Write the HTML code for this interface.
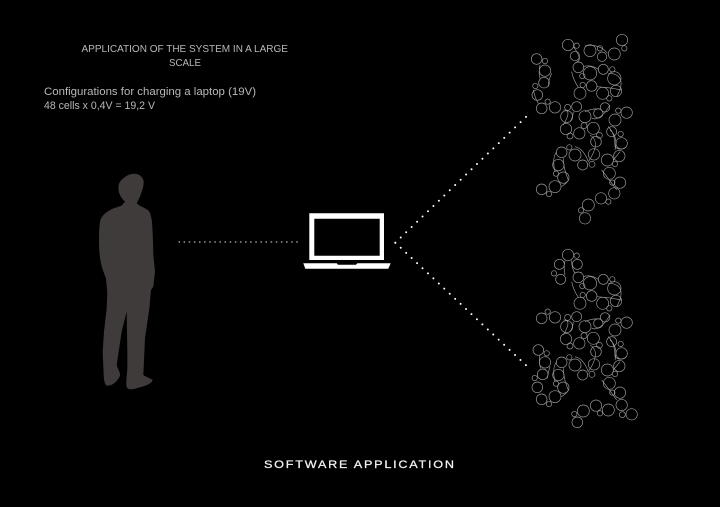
<!DOCTYPE html>
<html>
<head>
<meta charset="utf-8">
<style>
html,body{margin:0;padding:0;background:#000;width:720px;height:507px;overflow:hidden}
svg{display:block}
text{font-family:"Liberation Sans",sans-serif}
</style>
</head>
<body>
<svg width="720" height="507" viewBox="0 0 720 507" xmlns="http://www.w3.org/2000/svg">
<defs>
<g id="mid" fill="none" stroke="#9c9c9c" stroke-width="2">
<circle cx="175" cy="112" r="16"/><circle cx="210" cy="130" r="20"/><circle cx="250" cy="118" r="15"/><circle cx="283" cy="145" r="20"/>
<circle cx="277" cy="118" r="8"/><circle cx="187" cy="138" r="8"/><circle cx="188" cy="165" r="8"/>
<circle cx="215" cy="168" r="16"/><circle cx="180" cy="190" r="18"/><circle cx="248" cy="190" r="18"/><circle cx="288" cy="183" r="17"/><circle cx="268" cy="205" r="8"/>
<circle cx="170" cy="230" r="15"/><circle cx="143" cy="232" r="9"/><circle cx="255" cy="232" r="14"/><circle cx="235" cy="250" r="14"/><circle cx="195" cy="260" r="18"/>
<circle cx="320" cy="248" r="17"/><circle cx="295" cy="242" r="8"/><circle cx="285" cy="270" r="18"/><circle cx="140" cy="260" r="18"/><circle cx="138" cy="297" r="17"/>
<circle cx="275" cy="305" r="15"/><circle cx="178" cy="310" r="17"/><circle cx="220" cy="295" r="18"/><circle cx="192" cy="287" r="9"/><circle cx="150" cy="318" r="9"/><circle cx="238" cy="316" r="9"/><circle cx="302" cy="312" r="8"/>
<circle cx="305" cy="340" r="17"/><circle cx="228" cy="335" r="16"/><circle cx="125" cy="367" r="16"/><circle cx="148" cy="352" r="8"/><circle cx="165" cy="375" r="18"/><circle cx="222" cy="373" r="17"/>
<circle cx="262" cy="390" r="18"/><circle cx="298" cy="378" r="17"/><circle cx="285" cy="402" r="8"/><circle cx="188" cy="405" r="15"/><circle cx="216" cy="403" r="9"/><circle cx="115" cy="405" r="17"/>
<circle cx="268" cy="430" r="18"/><circle cx="108" cy="431" r="8"/><circle cx="130" cy="443" r="17"/><circle cx="277" cy="458" r="8"/><circle cx="300" cy="458" r="17"/>
<circle cx="105" cy="232" r="17"/><circle cx="83" cy="215" r="8"/><circle cx="65" cy="235" r="16"/>
<path d="M190,110 Q212,102 235,118 M265,130 Q298,130 303,155 Q305,175 290,200 M230,170 Q265,172 305,180 M130,240 Q158,238 130,285 M160,245 Q158,265 150,275 M215,265 Q240,275 270,225 M265,290 Q285,310 285,350 Q300,365 320,350 M210,315 Q245,335 205,395 M110,365 Q95,385 105,425 M130,385 Q130,415 145,450 M245,420 Q265,445 290,480 M300,365 Q290,378 280,390 M270,300 Q295,320 285,360 M155,125 Q160,150 175,172 M195,245 Q215,235 240,237 M165,350 Q190,355 205,395"/>
</g>
</defs>

<rect width="720" height="507" fill="#000"/>

<text x="81.5" y="52" font-size="10.4" fill="#b8b8b8" textLength="206.5" lengthAdjust="spacingAndGlyphs">APPLICATION OF THE SYSTEM IN A LARGE</text>
<text x="169" y="66" font-size="10.4" fill="#b8b8b8" textLength="32" lengthAdjust="spacingAndGlyphs">SCALE</text>
<text x="44" y="95" font-size="11" fill="#b8b8b8" textLength="212" lengthAdjust="spacingAndGlyphs">Configurations for charging a laptop (19V)</text>
<text x="44" y="109" font-size="11" fill="#b8b8b8" textLength="111" lengthAdjust="spacingAndGlyphs">48 cells x 0,4V = 19,2 V</text>

<g transform="translate(90,165) scale(0.3333)">
<path fill="#3f3b3a" d="M125,27 C140,24 155,30 160,45 C164,60 155,80 150,95 L140,115 C150,125 172,130 178,140 C188,160 187,190 189,230 L190,270 L195,320 L190,365 L183,375 L178,430 L165,520 L160,630 C170,638 185,640 188,646 C185,655 170,662 150,667 C135,672 120,676 112,670 C106,660 110,640 112,610 L112,560 L110,440 L95,500 L80,600 C85,615 92,625 90,632 C85,645 72,660 55,662 C45,664 42,650 41,630 L38,560 L42,500 L50,430 L52,385 L48,340 C40,320 32,300 29,270 C26,240 26,200 30,170 C34,150 50,140 70,130 L95,122 L105,110 C95,100 88,90 86,78 C83,60 88,48 100,40 C108,33 115,29 125,27 Z"/>
</g>

<line x1="178.5" y1="242" x2="298" y2="242" stroke="#9a9a9a" stroke-width="1.5" stroke-dasharray="1.5 3.62"/>

<path fill="#fff" fill-rule="evenodd" d="M309.3,213.3H384V260H309.3Z M314.3,218.7V255.7H379.7V218.7Z"/>
<path fill="#fff" d="M303.3,263.3H336.7L338,264.7H356L357.3,263.3H390.7L388.3,268.7H305.3Z"/>

<line x1="395.3" y1="242.7" x2="530" y2="113" stroke="#fff" stroke-width="2" stroke-linecap="round" stroke-dasharray="0 7.56"/>
<line x1="395.3" y1="242.7" x2="530" y2="369" stroke="#fff" stroke-width="2" stroke-linecap="round" stroke-dasharray="0 7.46"/>

<!-- top cluster -->
<g transform="translate(520,30) scale(0.3333)">
<use href="#mid"/>
<g fill="none" stroke="#9c9c9c" stroke-width="2">
<circle cx="144" cy="45" r="17"/><circle cx="170" cy="47" r="8"/><circle cx="165" cy="78" r="14"/><circle cx="210" cy="62" r="18"/><circle cx="240" cy="55" r="8"/><circle cx="246" cy="80" r="14"/><circle cx="283" cy="72" r="18"/><circle cx="306" cy="30" r="17"/><circle cx="313" cy="55" r="8"/>
<circle cx="50" cy="87" r="16"/><circle cx="75" cy="93" r="8"/><circle cx="75" cy="122" r="17"/><circle cx="72" cy="158" r="16"/><circle cx="46" cy="168" r="8"/><circle cx="52" cy="195" r="16"/>
<circle cx="105" cy="470" r="18"/><circle cx="65" cy="478" r="16"/><circle cx="87" cy="492" r="8"/>
<circle cx="283" cy="490" r="17"/><circle cx="243" cy="505" r="17"/><circle cx="265" cy="515" r="8"/><circle cx="205" cy="525" r="18"/><circle cx="183" cy="541" r="8"/><circle cx="195" cy="565" r="17"/>
<path d="M160,50 Q190,90 170,96 M195,48 Q240,40 262,70 M60,105 Q55,130 60,145 M95,130 Q85,150 85,170 M125,470 Q145,455 145,450 M40,180 Q45,205 55,220"/>
</g>
</g>

<!-- bottom cluster -->
<g transform="translate(520,240) scale(0.3333)">
<use href="#mid"/>
<g fill="none" stroke="#9c9c9c" stroke-width="2">
<circle cx="144" cy="45" r="17"/><circle cx="170" cy="47" r="8"/><circle cx="118" cy="73" r="15"/><circle cx="172" cy="73" r="15"/><circle cx="102" cy="100" r="8"/><circle cx="122" cy="118" r="15"/>
<circle cx="55" cy="330" r="16"/><circle cx="80" cy="340" r="8"/><circle cx="75" cy="367" r="17"/><circle cx="68" cy="403" r="16"/><circle cx="44" cy="414" r="8"/><circle cx="52" cy="442" r="16"/>
<circle cx="65" cy="478" r="16"/><circle cx="105" cy="470" r="18"/><circle cx="87" cy="492" r="8"/>
<circle cx="305" cy="495" r="17"/><circle cx="265" cy="510" r="18"/><circle cx="228" cy="497" r="17"/><circle cx="240" cy="520" r="8"/><circle cx="190" cy="513" r="18"/><circle cx="163" cy="522" r="8"/><circle cx="172" cy="547" r="16"/><circle cx="335" cy="523" r="17"/><circle cx="307" cy="524" r="9"/>
<path d="M135,62 Q130,85 135,105 M155,62 Q155,85 165,100 M60,345 Q55,365 62,385 M90,380 Q85,395 82,415 M125,470 Q145,455 145,450"/>
</g>
</g>

<text transform="translate(264,468) scale(1.15,1)" x="0" y="0" font-size="11" fill="#f2f2f2" stroke="#f2f2f2" stroke-width="0.25" textLength="165.2" lengthAdjust="spacing">SOFTWARE APPLICATION</text>
</svg>
</body>
</html>
